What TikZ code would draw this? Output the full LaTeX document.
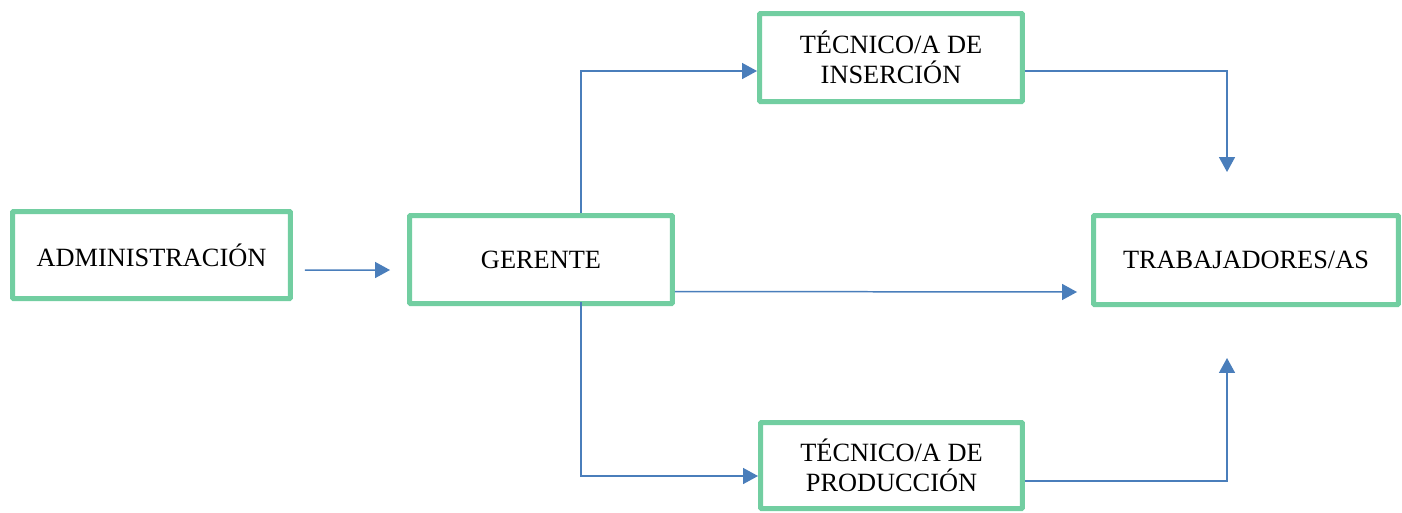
\documentclass[tikz,border=0pt]{standalone}
\usepackage{fontspec}
\setmainfont{Liberation Serif}
\usepackage{xcolor}
\usepackage{tikz}
\usetikzlibrary{arrows.meta, positioning}
\definecolor{boxgreen}{RGB}{114, 206, 161}
\definecolor{arrowblue}{RGB}{74, 126, 187}

\begin{document}
\begin{tikzpicture}[
  x=0.02cm, y=-0.02cm,
  unit/.style={rectangle, draw=boxgreen, line width=0.1cm, rounded corners=0.5pt, align=center,
    font=\fontsize{15}{17}\selectfont, inner sep=0pt},
  link/.style={draw=arrowblue, line width=0.85pt, -{Triangle[length=0.3cm, width=0.32cm]}}
]
  \useasboundingbox (0,0) rectangle (1402,512);

  \node[unit, minimum width=5.56cm, minimum height=1.74cm] (admin) at (151.5,255) {ADMINISTRACIÓN};
  \node[unit, minimum width=5.26cm, minimum height=1.76cm] (gerente) at (541,259.5) {GERENTE};
  \node[unit, minimum width=5.26cm, minimum height=1.76cm] (insercion) at (891,57.5) {TÉCNICO/A DE\\INSERCIÓN};
  \node[unit, minimum width=5.24cm, minimum height=1.72cm] (produccion) at (891.5,465.5) {TÉCNICO/A DE\\PRODUCCIÓN};
  \node[unit, minimum width=6.1cm, minimum height=1.78cm] (trabajadores) at (1246,260) {TRABAJADORES/AS};

  \coordinate (adminout) at ([xshift=0.24cm, yshift=-0.3cm]admin.east);
  \coordinate (gerentein) at ([xshift=-0.34cm, yshift=-0.21cm]gerente.west);
  \coordinate (trableft) at ([xshift=-0.28cm, yshift=-0.64cm]trabajadores.west);
  \coordinate (trabtop) at ([xshift=-0.38cm, yshift=0.82cm]trabajadores.north);
  \coordinate (trabbottom) at ([xshift=-0.38cm, yshift=-1.02cm]trabajadores.south);

  \draw[link] (adminout) -- (gerentein);
  \draw[link] ([xshift=0.8cm]gerente.north) |- ([yshift=-0.27cm]insercion.west);
  \draw[link] ([xshift=0.8cm, yshift=0.08cm]gerente.south) |- ([yshift=-0.21cm]produccion.west);
  \draw[link] ([yshift=-0.64cm]gerente.east) -- (trableft);
  \draw[link] ([yshift=-0.27cm]insercion.east) -| (trabtop);
  \draw[link] ([yshift=-0.31cm]produccion.east) -| (trabbottom);
\end{tikzpicture}
\end{document}
